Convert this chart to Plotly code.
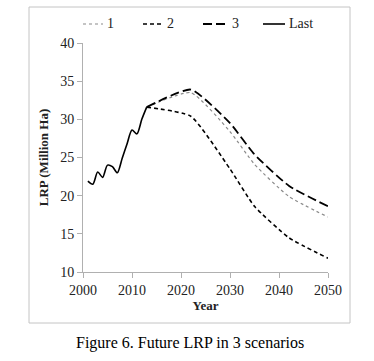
import plotly.graph_objects as go

# Historical series ("Last")
years_last = [2001, 2002, 2003, 2004, 2005, 2006, 2007, 2008, 2009, 2010, 2011, 2012, 2013]
values_last = [21.9, 21.5, 23.1, 22.4, 24.0, 23.8, 23.0, 24.9, 26.8, 28.6, 28.1, 30.0, 31.6]

# Scenario projections
years_scen = [2013, 2022, 2030, 2035, 2042, 2050]
values_s1 = [31.6, 33.5, 28.4, 24.1, 19.9, 17.2]
values_s2 = [31.6, 30.4, 23.5, 18.6, 14.5, 11.8]
values_s3 = [31.6, 33.9, 29.5, 25.4, 21.3, 18.6]

series_names = ["1", "2", "3", "Last"]

x_ticks = [2000, 2010, 2020, 2030, 2040, 2050]
y_ticks = [10, 15, 20, 25, 30, 35, 40]

serif = "Liberation Serif, Times New Roman, serif"
sm = 0.5

styles = [
    dict(color="#8a8a8a", width=1.2, dash="dot"),
    dict(color="black", width=1.6, dash="4px,3px"),
    dict(color="black", width=1.8, dash="9px,4px"),
    dict(color="black", width=1.6, dash="solid"),
]

fig = go.Figure()
fig.add_trace(go.Scatter(x=years_scen, y=values_s1, name=series_names[0], mode="lines",
                         line=dict(**styles[0], shape="spline", smoothing=sm)))
fig.add_trace(go.Scatter(x=years_scen, y=values_s2, name=series_names[1], mode="lines",
                         line=dict(**styles[1], shape="spline", smoothing=sm)))
fig.add_trace(go.Scatter(x=years_scen, y=values_s3, name=series_names[2], mode="lines",
                         line=dict(**styles[2], shape="spline", smoothing=sm)))
fig.add_trace(go.Scatter(x=years_last, y=values_last, name=series_names[3], mode="lines",
                         line=dict(**styles[3], shape="spline", smoothing=0.8)))

# pixel helpers for the plot area (l=83, w=245, t=43, h=229)
def px_x(p):
    return (p - 83) / 245

def px_y(p):
    return (272 - p) / 229

shapes = [dict(type="rect", xref="paper", yref="paper",
               x0=px_x(29), x1=px_x(350), y0=px_y(323), y1=px_y(7),
               line=dict(color="#c4c4c4", width=1), fillcolor="rgba(0,0,0,0)", layer="below")]
annotations = [dict(text="Figure 6. Future LRP in 3 scenarios", xref="paper", yref="paper",
                    x=px_x(190), y=px_y(343), xanchor="center", yanchor="middle",
                    showarrow=False, font=dict(family=serif, size=16, color="black"))]

# legend drawn as a row of samples + labels above the plot
sample_spans = [(83, 103), (143, 163), (203, 228), (263, 285)]
for name, st, (a, b) in zip(series_names, styles, sample_spans):
    shapes.append(dict(type="line", xref="paper", yref="paper",
                       x0=px_x(a), x1=px_x(b), y0=px_y(24), y1=px_y(24),
                       line=dict(color=st["color"], width=st["width"], dash=st["dash"])))
    annotations.append(dict(text=name, xref="paper", yref="paper",
                            x=px_x(b + 2), y=px_y(24), xanchor="left", yanchor="middle",
                            showarrow=False, font=dict(family=serif, size=14, color="#222")))

fig.update_layout(
    width=374, height=361, autosize=False,
    margin=dict(l=83, r=46, t=43, b=89, autoexpand=False),
    paper_bgcolor="white", plot_bgcolor="white",
    font=dict(family=serif, size=14, color="#222"),
    showlegend=False,
    xaxis=dict(range=[2000, 2050], tickvals=x_ticks, showgrid=False, zeroline=False,
               showline=True, linecolor="#b0b0b0", linewidth=1,
               ticks="outside", ticklen=5, tickcolor="#b0b0b0",
               tickfont=dict(family=serif, size=14, color="#222"),
               title=dict(text="<b>Year</b>", font=dict(family=serif, size=13, color="#222"), standoff=4)),
    yaxis=dict(range=[10, 40], tickvals=y_ticks, showgrid=False, zeroline=False,
               showline=True, linecolor="#b0b0b0", linewidth=1,
               ticks="outside", ticklen=5, tickcolor="#b0b0b0",
               tickfont=dict(family=serif, size=14, color="#222"),
               title=dict(text="<b>LRP (Million Ha)</b>", font=dict(family=serif, size=13, color="#222"), standoff=8)),
    shapes=shapes,
    annotations=annotations,
)

fig.write_html("out.html", config={"displayModeBar": False},
               post_script="document.body.style.margin='0px';")
